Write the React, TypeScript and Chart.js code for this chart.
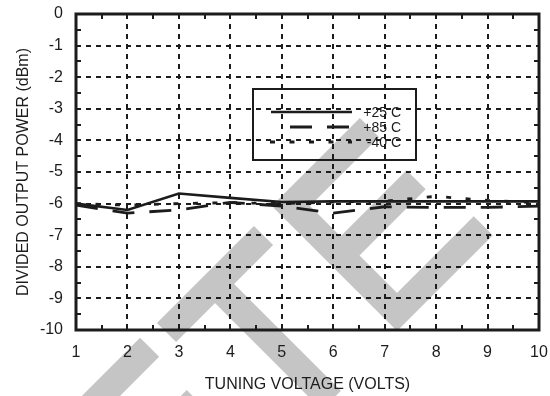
import React, { useEffect, useRef } from "react";
import { Chart, registerables } from "chart.js";

Chart.register(...registerables);

// Divided output power versus tuning voltage at three temperatures
const voltages = [1, 2, 3, 4, 5, 6, 7, 8, 9, 10];
const powerPlus25 = [-6.0, -6.2, -5.68, -5.82, -5.95, -5.93, -5.93, -5.93, -5.93, -5.93];
const powerPlus85 = [-6.05, -6.3, -6.2, -5.96, -6.08, -6.3, -6.1, -6.12, -6.12, -6.08];
const powerMinus40 = [-6.0, -6.05, -6.0, -5.97, -6.0, -5.95, -5.92, -5.77, -5.9, -5.97];
const seriesNames = ["+25 C", "+85 C", "-40 C"];
const xTickValues = [1, 2, 3, 4, 5, 6, 7, 8, 9, 10];
const yTickValues = [0, -1, -2, -3, -4, -5, -6, -7, -8, -9, -10];
const xAxisTitle = "TUNING VOLTAGE (VOLTS)";
const yAxisTitle = "DIVIDED OUTPUT POWER (dBm)";

const INK = "#1c1c1c";
const FONT_FAMILY = "'Liberation Sans', Arial, Helvetica, sans-serif";
const seriesDashes: number[][] = [[], [22, 15], [5, 14.5]];
const seriesWidths = [2.6, 2.8, 2.8];

// Grey "OBSOLETE"-style stamp letters, drawn in a rotated glyph space:
// s runs along the baseline, h rises above it.
const STAMP_GREY = "#c5c5c5";
const STAMP_STROKE = 27;
type Stroke = [number, number][];
const letterT = (s0: number): Stroke[] => [
  [[s0 - 68.6, 160.5], [s0 + 68.6, 160.5]],
  [[s0, 160.5], [s0, -4]],
];
const letterE = (s0: number): Stroke[] => [
  [[s0 + 111, 162], [s0, 162], [s0, 12], [s0 + 122, 12]],
  [[s0, 92], [s0 + 107, 92]],
];
const stampStrokes: Stroke[] = [...letterE(-202), ...letterT(0), ...letterE(108.9)];

const framePlugin = {
  id: "frame",
  beforeDraw(chart: any) {
    const { ctx, width, height } = chart;
    ctx.save();
    ctx.fillStyle = "#ffffff";
    ctx.fillRect(0, 0, width, height);
    // stamp
    ctx.translate(328.5, 397.5);
    ctx.rotate(-Math.PI / 4);
    ctx.strokeStyle = STAMP_GREY;
    ctx.lineWidth = STAMP_STROKE;
    ctx.lineCap = "butt";
    ctx.lineJoin = "miter";
    for (const stroke of stampStrokes) {
      ctx.beginPath();
      stroke.forEach(([s, h], i) => (i === 0 ? ctx.moveTo(s, -h) : ctx.lineTo(s, -h)));
      ctx.stroke();
    }
    ctx.restore();
  },
  beforeDatasetsDraw(chart: any) {
    const { ctx, chartArea, scales } = chart;
    const { left, right, top, bottom } = chartArea;
    ctx.save();
    ctx.strokeStyle = INK;
    ctx.lineWidth = 2;
    ctx.setLineDash([5, 5]);
    ctx.lineCap = "butt";
    for (const v of xTickValues.slice(1, -1)) {
      const x = Math.round(scales.x.getPixelForValue(v));
      ctx.beginPath();
      ctx.moveTo(x, top);
      ctx.lineTo(x, bottom);
      ctx.stroke();
    }
    for (const v of yTickValues.slice(1, -1)) {
      const y = Math.round(scales.y.getPixelForValue(v));
      ctx.beginPath();
      ctx.moveTo(left, y);
      ctx.lineTo(right, y);
      ctx.stroke();
    }
    ctx.restore();
  },
  afterDatasetsDraw(chart: any) {
    const { ctx, chartArea, scales } = chart;
    const { left, right, top, bottom } = chartArea;
    ctx.save();
    ctx.strokeStyle = INK;
    ctx.setLineDash([]);
    // half-step ticks on the inside of the frame
    ctx.lineWidth = 2;
    const tickLen = 5;
    for (let i = 0; i < xTickValues.length - 1; i++) {
      const x = Math.round(scales.x.getPixelForValue((xTickValues[i] + xTickValues[i + 1]) / 2));
      ctx.beginPath();
      ctx.moveTo(x, top);
      ctx.lineTo(x, top + tickLen);
      ctx.moveTo(x, bottom);
      ctx.lineTo(x, bottom - tickLen);
      ctx.stroke();
    }
    for (let i = 0; i < yTickValues.length - 1; i++) {
      const y = Math.round(scales.y.getPixelForValue((yTickValues[i] + yTickValues[i + 1]) / 2));
      ctx.beginPath();
      ctx.moveTo(left, y);
      ctx.lineTo(left + tickLen, y);
      ctx.moveTo(right, y);
      ctx.lineTo(right - tickLen, y);
      ctx.stroke();
    }
    // frame
    ctx.lineWidth = 3;
    ctx.strokeRect(left, top, right - left, bottom - top);

    // legend box
    const bx = left + 177;
    const by = top + 75;
    const bw = 163;
    const bh = 71;
    ctx.lineWidth = 2;
    ctx.strokeRect(bx, by, bw, bh);
    const sampleStarts = [bx + 18, bx + 37, bx + 17];
    const sampleEnd = bx + 99;
    ctx.font = `14px ${FONT_FAMILY}`;
    ctx.fillStyle = INK;
    ctx.textAlign = "right";
    ctx.textBaseline = "middle";
    seriesNames.forEach((name, i) => {
      const y = by + 23 + i * 15;
      ctx.lineWidth = seriesWidths[i];
      ctx.setLineDash(seriesDashes[i]);
      ctx.beginPath();
      ctx.moveTo(sampleStarts[i], y);
      ctx.lineTo(sampleEnd, y);
      ctx.stroke();
      ctx.setLineDash([]);
      ctx.fillText(name, bx + 148, y + 1);
    });
    ctx.restore();
  },
};

export default function App() {
  const canvasRef = useRef<HTMLCanvasElement | null>(null);

  useEffect(() => {
    const canvas = canvasRef.current;
    if (!canvas) return;
    const series = [powerPlus25, powerPlus85, powerMinus40];
    const tickFont = { family: FONT_FAMILY, size: 16 };
    const chart = new Chart(canvas, {
      type: "line",
      data: {
        datasets: series.map((values, i) => ({
          label: seriesNames[i],
          data: voltages.map((v, j) => ({ x: v, y: values[j] })),
          borderColor: INK,
          borderWidth: seriesWidths[i],
          borderDash: seriesDashes[i],
          borderCapStyle: "butt",
          pointRadius: 0,
          tension: 0,
          fill: false,
        })),
      },
      options: {
        responsive: false,
        animation: false,
        devicePixelRatio: 1,
        layout: { autoPadding: false, padding: { top: 14, right: 11, left: 0, bottom: 0 } },
        plugins: { legend: { display: false }, tooltip: { enabled: false } },
        scales: {
          x: {
            type: "linear",
            min: 1,
            max: 10,
            afterFit: (s: any) => {
              s.height = 66;
              s.paddingLeft = 0;
              s.paddingRight = 0;
            },
            afterBuildTicks: (s: any) => {
              s.ticks = xTickValues.map((value) => ({ value }));
            },
            ticks: { font: tickFont, color: INK, padding: 13, maxRotation: 0, autoSkip: false },
            grid: { display: false, drawTicks: false },
            border: { display: false },
            title: {
              display: true,
              text: xAxisTitle,
              font: tickFont,
              color: INK,
              padding: { top: 0, bottom: 2 },
            },
          },
          y: {
            type: "linear",
            min: -10,
            max: 0,
            afterFit: (s: any) => {
              s.width = 76;
              s.paddingTop = 0;
              s.paddingBottom = 0;
            },
            afterBuildTicks: (s: any) => {
              s.ticks = yTickValues.map((value) => ({ value }));
            },
            ticks: { font: tickFont, color: INK, padding: 13, autoSkip: false },
            grid: { display: false, drawTicks: false },
            border: { display: false },
            title: {
              display: true,
              text: yAxisTitle,
              font: tickFont,
              color: INK,
              padding: { top: 14, bottom: 0 },
            },
          },
        },
      },
      plugins: [framePlugin],
    } as any);
    return () => chart.destroy();
  }, []);

  return (
    <div style={{ position: "fixed", left: 0, top: 0, width: 550, height: 396, background: "#fff" }}>
      <canvas ref={canvasRef} width={550} height={396} style={{ display: "block" }} />
    </div>
  );
}
